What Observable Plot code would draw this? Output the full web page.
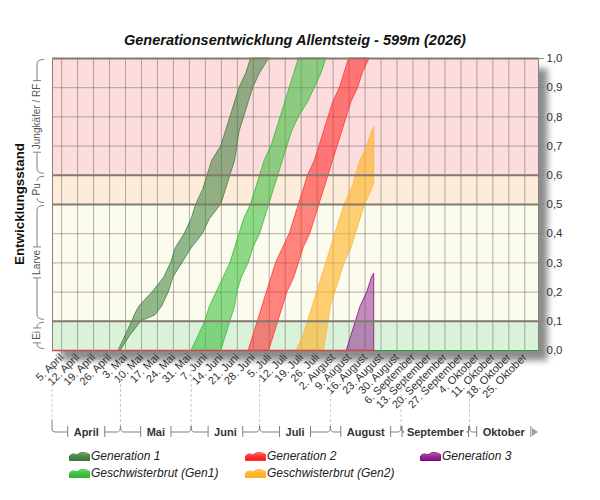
<!DOCTYPE html>
<html><head><meta charset="utf-8">
<script src="https://cdn.jsdelivr.net/npm/d3@7"></script>
<script src="https://cdn.jsdelivr.net/npm/@observablehq/plot@0.6"></script>
<style>
body{margin:0;background:#fff;width:600px;height:500px;overflow:hidden;font-family:"Liberation Sans",Arial,sans-serif;}
#title{height:50px;position:relative;}
#title span{position:absolute;left:0;width:590px;text-align:center;top:32px;line-height:16px;font:bold italic 14.5px "Liberation Sans",Arial,sans-serif;color:#111;white-space:nowrap;}
#chart{height:398px;}
#chart svg{display:block;overflow:visible;}
#legend{position:relative;height:52px;}
.item{position:absolute;height:16px;display:flex;align-items:center;font:italic 12px "Liberation Sans",Arial,sans-serif;color:#222;white-space:nowrap;}
.item svg{margin-right:1px;}
</style></head>
<body>
<div id="title"><span>Generationsentwicklung Allentsteig - 599m (2026)</span></div>
<div id="chart"></div>
<div id="legend"></div>
<script>
// ---------- data ----------
const seasonStartStr = "2026-04-01";
const seasonEndStr = "2026-10-31";
const forecastEndStr = "2026-08-20";

const weekTickDates = ["2026-04-05","2026-04-12","2026-04-19","2026-04-26","2026-05-03","2026-05-10","2026-05-17","2026-05-24","2026-05-31","2026-06-07","2026-06-14","2026-06-21","2026-06-28","2026-07-05","2026-07-12","2026-07-19","2026-07-26","2026-08-02","2026-08-09","2026-08-16","2026-08-23","2026-08-30","2026-09-06","2026-09-13","2026-09-20","2026-09-27","2026-10-04","2026-10-11","2026-10-18","2026-10-25"];
const monthNames = ["Januar","Februar","März","April","Mai","Juni","Juli","August","September","Oktober","November","Dezember"];
const monthLabels = ["April","Mai","Juni","Juli","August","September","Oktober"];
const monthStarts = ["2026-04-01","2026-05-01","2026-06-01","2026-07-01","2026-08-01","2026-09-01","2026-10-01"];

const yTicks = [0,0.1,0.2,0.3,0.4,0.5,0.6,0.7,0.8,0.9,1.0];
const minorLines = [0.2,0.3,0.4,0.7,0.8,0.9];
const majorLines = [0.1,0.5,0.6,1.0];

const stageNames = ["Ei","Larve","Pu","Jungkäfer / RF"];
const stageLow = [0,0.1,0.5,0.6];
const stageHigh = [0.1,0.5,0.6,1.0];

// development level (y) with earliest / latest date reaching it
const gen1Levels = [0,0.05,0.1,0.12,0.15,0.2,0.25,0.3,0.35,0.4,0.45,0.5,0.55,0.6,0.65,0.7,0.75,0.8,0.85,0.9,0.95,1];
const gen1Early = ["2026-04-30","2026-05-03","2026-05-06","2026-05-07","2026-05-09","2026-05-15","2026-05-20","2026-05-23","2026-05-25","2026-05-29","2026-06-01","2026-06-03","2026-06-06","2026-06-08","2026-06-10","2026-06-14","2026-06-16","2026-06-18","2026-06-20","2026-06-22","2026-06-25","2026-06-27"];
const gen1Late = ["2026-05-01","2026-05-05","2026-05-10","2026-05-16","2026-05-19","2026-05-22","2026-05-24","2026-05-28","2026-06-01","2026-06-06","2026-06-09","2026-06-14","2026-06-16","2026-06-18","2026-06-20","2026-06-21","2026-06-22","2026-06-24","2026-06-26","2026-06-28","2026-07-01","2026-07-05"];

const stdLevels = [0,0.05,0.1,0.15,0.2,0.25,0.3,0.35,0.4,0.45,0.5,0.55,0.6,0.65,0.7,0.75,0.8,0.85,0.9,0.95,1];
const sib1Early = ["2026-06-01","2026-06-04","2026-06-07","2026-06-09","2026-06-12","2026-06-15","2026-06-18","2026-06-20","2026-06-22","2026-06-24","2026-06-27","2026-06-29","2026-07-01","2026-07-03","2026-07-06","2026-07-08","2026-07-10","2026-07-12","2026-07-14","2026-07-16","2026-07-18"];
const sib1Late = ["2026-06-14","2026-06-16","2026-06-18","2026-06-20","2026-06-21","2026-06-23","2026-06-26","2026-06-28","2026-07-01","2026-07-03","2026-07-05","2026-07-07","2026-07-09","2026-07-11","2026-07-13","2026-07-15","2026-07-18","2026-07-22","2026-07-25","2026-07-28","2026-07-30"];

const gen2Early = ["2026-06-26","2026-06-28","2026-06-30","2026-07-02","2026-07-04","2026-07-06","2026-07-08","2026-07-11","2026-07-14","2026-07-16","2026-07-18","2026-07-20","2026-07-22","2026-07-25","2026-07-27","2026-07-29","2026-07-31","2026-08-02","2026-08-05","2026-08-07","2026-08-09"];
const gen2Late = ["2026-07-05","2026-07-07","2026-07-09","2026-07-11","2026-07-13","2026-07-16","2026-07-18","2026-07-20","2026-07-23","2026-07-25","2026-07-27","2026-07-29","2026-07-31","2026-08-02","2026-08-04","2026-08-06","2026-08-08","2026-08-10","2026-08-13","2026-08-15","2026-08-18"];

const sib2Levels = [0,0.05,0.1,0.15,0.2,0.25,0.3,0.35,0.4,0.45,0.5,0.55,0.571,0.6,0.65,0.7,0.75,0.765];
const sib2Early = ["2026-07-17","2026-07-20","2026-07-22","2026-07-24","2026-07-26","2026-07-28","2026-07-30","2026-08-01","2026-08-03","2026-08-05","2026-08-07","2026-08-10","2026-08-11","2026-08-12","2026-08-14","2026-08-17","2026-08-19","2026-08-20"];
const sib2Late = ["2026-07-29","2026-07-30","2026-07-31","2026-08-01","2026-08-03","2026-08-05","2026-08-07","2026-08-10","2026-08-12","2026-08-14","2026-08-16","2026-08-19","2026-08-20","2026-08-20","2026-08-20","2026-08-20","2026-08-20","2026-08-20"];

const gen3Levels = [0,0.05,0.1,0.15,0.2,0.25,0.263];
const gen3Early = ["2026-08-08","2026-08-10","2026-08-12","2026-08-14","2026-08-17","2026-08-19","2026-08-20"];
const gen3Late = ["2026-08-20","2026-08-20","2026-08-20","2026-08-20","2026-08-20","2026-08-20","2026-08-20"];

const seriesNames = ["Generation 1","Geschwisterbrut (Gen1)","Generation 2","Geschwisterbrut (Gen2)","Generation 3"];

// ---------- styles ----------
const seriesFill = ["#3b7d3b","#33bb33","#ff2020","#ffb020","#8a1a8a"];
const seriesOpacity = [0.55,0.55,0.55,0.6,0.5];
const seriesStroke = ["#3a7a3a","#2fb52f","#ff3030","#ffb030","#800080"];
const stageFill = ["#d9f2d9","#fcfcee","#fdecd9","#fcdcdc"];

// ---------- build ----------
const parse = s => { const [y,m,d] = s.split("-").map(Number); return new Date(y, m-1, d); };
const seasonStart = parse(seasonStartStr), seasonEnd = parse(seasonEndStr), forecastEnd = parse(forecastEndStr);
const weekTicks = weekTickDates.map(parse);
const rows = (levels, early, late) => levels.map((v,i) => ({v, early: parse(early[i]), late: parse(late[i])}));
const seriesRows = [
  rows(gen1Levels, gen1Early, gen1Late),
  rows(stdLevels, sib1Early, sib1Late),
  rows(stdLevels, gen2Early, gen2Late),
  rows(sib2Levels, sib2Early, sib2Late),
  rows(gen3Levels, gen3Early, gen3Late)
];
const stages = stageNames.map((name,i) => ({name, lo: stageLow[i], hi: stageHigh[i]}));
const fmtDate = d => `${d.getDate()}. ${monthNames[d.getMonth()]}`;
const fmtY = v => v.toFixed(1).replace(".", ",");

const chart = Plot.plot({
  width: 600, height: 398,
  marginTop: 8, marginBottom: 98, marginLeft: 52, marginRight: 62,
  x: {type: "time", domain: [seasonStart, seasonEnd]},
  y: {domain: [0, 1]},
  style: {fontFamily: '"Liberation Sans", Arial, sans-serif', fontSize: "11px", color: "#333", background: "transparent"},
  marks: [
    Plot.frame({fill: "#8c8c8c", stroke: null, dx: 9, dy: 10, ariaLabel: "shadow"}),
    ...stages.map((s,i) => Plot.rect([s], {x1: () => seasonStart, x2: () => seasonEnd, y1: "lo", y2: "hi", fill: stageFill[i]})),
    Plot.ruleX(weekTicks, {stroke: "#6e6060", strokeOpacity: 0.5}),
    Plot.ruleY(minorLines, {stroke: "#6e6060", strokeOpacity: 0.5}),
    ...seriesRows.map((r,i) => Plot.areaX(r, {y: "v", x1: "early", x2: "late", fill: seriesFill[i], fillOpacity: seriesOpacity[i], stroke: seriesStroke[i], strokeOpacity: 0.75, strokeWidth: 1})),
    Plot.ruleY(majorLines, {stroke: "#85786f", strokeWidth: 2}),
    Plot.ruleX([seasonStart, seasonEnd], {stroke: "#8c807a", strokeWidth: 1}),
    Plot.ruleY([0], {x1: () => seasonStart, x2: () => forecastEnd, stroke: "#c84a4a", strokeWidth: 1.5}),
    Plot.ruleY([0], {x1: () => forecastEnd, x2: () => seasonEnd, stroke: "#2f9a2f", strokeWidth: 1.2}),
    Plot.axisX(weekTicks, {anchor: "bottom", tickFormat: fmtDate, tickRotate: -45, tickSize: 4, tickPadding: 1, label: null, fontSize: 11, stroke: "#888", fill: "#333"}),
    Plot.axisY(yTicks, {anchor: "right", tickFormat: fmtY, tickSize: 5, tickPadding: 3, label: null, fontSize: 11.5, stroke: "#888", fill: "#333"})
  ]
});
document.getElementById("chart").appendChild(chart);

// ---------- decorations (drawn with the plot's scales) ----------
const xs = chart.scale("x"), ys = chart.scale("y");
const svg = d3.select(chart);
const defs = svg.insert("defs", ":first-child");
defs.append("filter").attr("id", "shadowBlur").attr("x", "-20%").attr("y", "-20%").attr("width", "140%").attr("height", "140%")
  .append("feGaussianBlur").attr("stdDeviation", 3);
svg.selectAll('[aria-label="shadow"]').attr("filter", "url(#shadowBlur)");

const deco = svg.append("g").attr("fill", "none").attr("stroke", "#808080").attr("stroke-width", 1);
const txt = svg.append("g").attr("font-family", '"Liberation Sans", Arial, sans-serif');

// left axis title
txt.append("text").attr("transform", `translate(19,${ys.apply(0.5)}) rotate(-90)`)
  .attr("text-anchor", "middle").attr("dominant-baseline", "central")
  .attr("font-weight", "bold").attr("font-size", 13.4).attr("fill", "#111").text("Entwicklungsstand");

// stage brackets
const bx = 37, bh = 44;
stages.forEach(s => {
  const yTop = ys.apply(s.hi), yBot = ys.apply(s.lo), mid = (yTop + yBot) / 2;
  const t = txt.append("text").attr("transform", `translate(${bx - 1},${mid}) rotate(-90)`)
    .attr("text-anchor", "middle").attr("dominant-baseline", "central")
    .attr("font-size", 10).attr("fill", "#555").text(s.name);
  const L = t.node().getComputedTextLength();
  const g1 = mid - L / 2 - 3, g2 = mid + L / 2 + 3;
  let p = `M${bh},${yTop + 1.5} Q${bx},${yTop + 1.5} ${bx},${yTop + 6}`;
  if (g1 > yTop + 6) p += ` V${g1} M${bx - 4},${g1} H${bx + 4}`;
  if (g2 < yBot - 6) p += ` M${bx - 4},${g2} H${bx + 4} M${bx},${g2} V${yBot - 6}`;
  else p += ` M${bx},${yBot - 6}`;
  p += ` Q${bx},${yBot - 1.5} ${bh},${yBot - 1.5}`;
  deco.append("path").attr("d", p);
});

// month axis
const yBase = ys.apply(0);
const yLine = yBase + 82;
const mStarts = monthStarts.map(parse);
mStarts.forEach((d, i) => {
  const xa = xs.apply(d);
  const xb = i < mStarts.length - 1 ? xs.apply(mStarts[i + 1]) : xs.apply(seasonEnd);
  const mid = (xa + xb) / 2;
  deco.append("line").attr("x1", xa).attr("x2", xa).attr("y1", yBase + 14).attr("y2", yLine - (i === 0 ? 12 : 6))
    .attr("stroke", "#c8c8c8").attr("stroke-dasharray", "3,2");
  const t = txt.append("text").attr("x", mid).attr("y", yLine).attr("text-anchor", "middle").attr("dominant-baseline", "central")
    .attr("font-weight", "bold").attr("font-size", 11).attr("fill", "#333").text(monthLabels[i]);
  const L = t.node().getComputedTextLength();
  const g1 = Math.max(xa + 1, mid - L / 2 - 6), g2 = Math.min(xb - 1, mid + L / 2 + 6);
  let p = "";
  if (i === 0) p += `M${xa},${yLine - 12} V${yLine - 3} Q${xa},${yLine} ${xa + 3},${yLine} H${g1}`;
  else p += `M${xa},${yLine - 6} Q${xa},${yLine} ${xa + 3},${yLine} H${g1}`;
  p += ` M${g1},${yLine - 6} V${yLine + 5} M${g2},${yLine - 6} V${yLine + 5}`;
  if (i < mStarts.length - 1) p += ` M${g2},${yLine} H${xb - 3} Q${xb},${yLine} ${xb},${yLine - 6}`;
  deco.append("path").attr("d", p);
  if (i === mStarts.length - 1) {
    deco.append("path").attr("d", `M${xb - 6},${yLine - 4} L${xb},${yLine} L${xb - 6},${yLine + 4} Z`).attr("fill", "#a0a0a0").attr("stroke", "none");
  }
});

// ---------- legend ----------
const legendOrder = [0, 2, 4, 1, 3];
const legendX = [69, 245, 420, 69, 245];
const legendY = [0, 0, 0, 16.5, 16.5];
const legend = document.getElementById("legend");
legendOrder.forEach((si, k) => {
  const div = document.createElement("div");
  div.className = "item";
  div.style.left = legendX[k] + "px";
  div.style.top = legendY[k] + "px";
  div.innerHTML = `<svg width="21" height="10" viewBox="0 0 21 10"><defs><linearGradient id="lg${si}" x1="0" y1="0" x2="0" y2="1"><stop offset="0" stop-color="#fff" stop-opacity="0.35"/><stop offset="1" stop-color="${seriesFill[si]}" stop-opacity="0"/></linearGradient></defs><path d="M0.5,9.5 L0.5,5 C3,2.5 5,2.5 8,4 C11,1 15,0.5 20.5,3.5 L20.5,9.5 Z" fill="${seriesFill[si]}" stroke="${seriesStroke[si]}" stroke-width="1"/><path d="M0.5,9.5 L0.5,5 C3,2.5 5,2.5 8,4 C11,1 15,0.5 20.5,3.5 L20.5,9.5 Z" fill="url(#lg${si})"/></svg><span>${seriesNames[si]}</span>`;
  legend.appendChild(div);
});
</script>
</body></html>
